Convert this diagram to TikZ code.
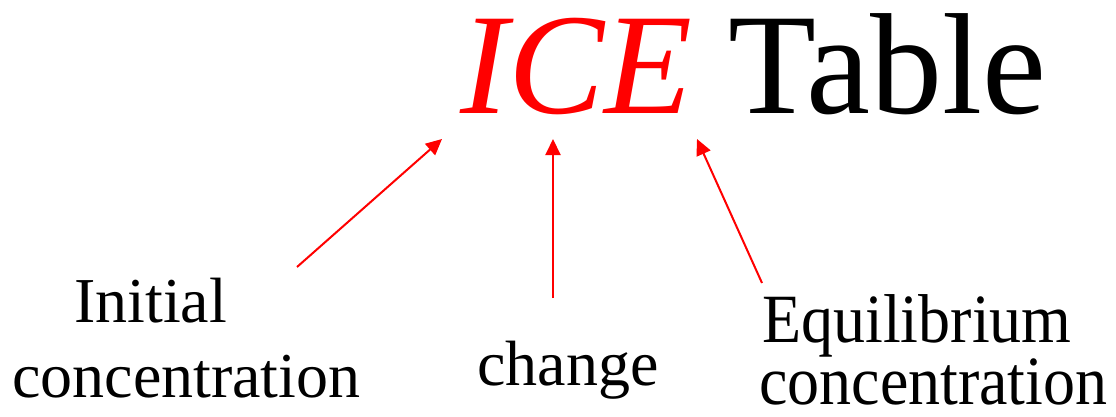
\documentclass[tikz,border=0pt]{standalone}
\usepackage{fontspec}
\setmainfont{Liberation Serif}
\usepackage{xcolor}
\usetikzlibrary{arrows.meta, positioning}
\definecolor{icered}{RGB}{255, 0, 0}

\begin{document}
\begin{tikzpicture}[
    x=1pt, y=1pt,
    title/.style={inner sep=0pt, anchor=base west, font=\fontsize{144}{144}\selectfont},
    label/.style={inner sep=0pt, anchor=base west, font=\fontsize{64}{64}\selectfont},
    arrow/.style={-{Triangle[length=16pt, width=15pt]}, line width=2pt, color=icered}
]
    \useasboundingbox (0,0) rectangle (1116,416);

    \node[title] (ice) at (460,302) {{\color{icered}\textit{ICE}} Table};

    \node[label] (init) at (74,94) {Initial};
    \node[label] (initconc) at (12,19) {concentration};
    \node[label] (chg) at (477,31) {change};
    \node[label] (equil) at (762,74) {\scalebox{1}[1.08]{Equilibrium}};
    \node[label] (equilconc) at (759,12) {\scalebox{1}[1.08]{concentration}};

    \coordinate (itail) at (297,149);
    \coordinate (ctail) at (553,118);
    \coordinate (etail) at (762,133);
    \coordinate (itip) at (442,277);
    \coordinate (ctip) at (553,277);
    \coordinate (etip) at (697,277);

    \draw[arrow] (itail) -- (itip);
    \draw[arrow] (ctail) -- (ctip);
    \draw[arrow] (etail) -- (etip);
\end{tikzpicture}
\end{document}
